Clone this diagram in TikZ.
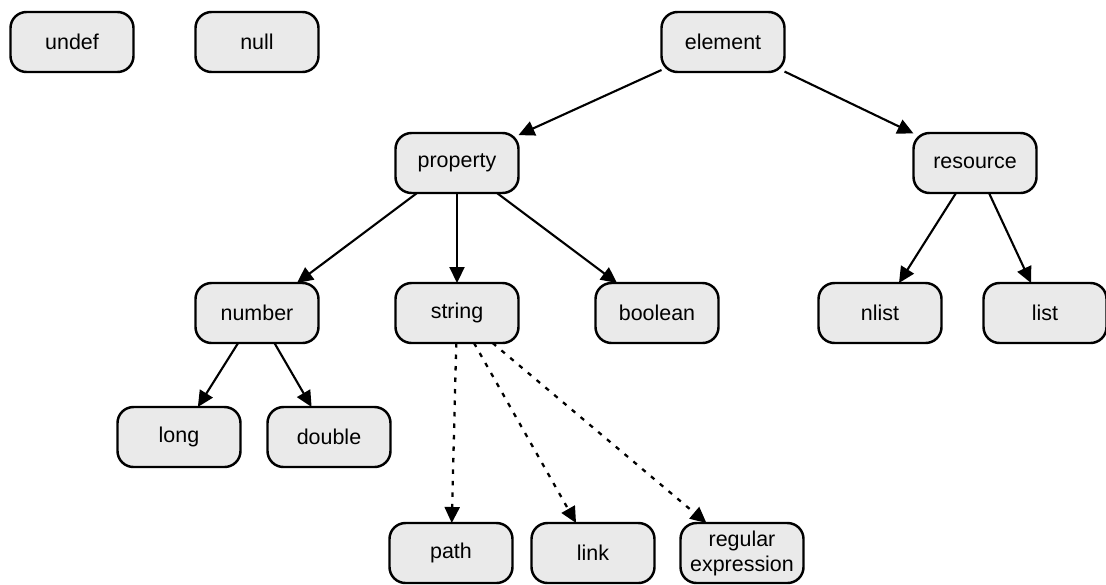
\documentclass[tikz,border=0pt]{standalone}
\usepackage{fontspec}
\setmainfont{Liberation Sans}
\usetikzlibrary{positioning,arrows.meta}
\definecolor{boxgray}{RGB}{234,234,234}
\tikzstyle{tbox}=[rectangle, rounded corners=0.32cm, draw=black, fill=boxgray, line width=1.4pt,
minimum width=2.46cm, minimum height=1.2cm, inner sep=1pt, outer sep=0pt, text centered, align=center,
font=\fontsize{12.2}{14.2}\selectfont]
\tikzstyle{line}=[-{Triangle[length=3.2mm,width=3mm]}, line width=1.2pt]
\tikzstyle{dline}=[line, line width=1.3pt, dash pattern=on 0.09cm off 0.14cm]

\begin{document}
\begin{tikzpicture}[node distance=0mm]

    \useasboundingbox (0,0) rectangle (22.12,-11.68);

% loose types
    \node (undef) [tbox] at (1.44,-0.84) {undef};
    \node (null) [tbox, right=1.24cm of undef] {null};

% element tree
    \node (element) [tbox] at (14.46,-0.84) {element};
    \node (property) [tbox, below=1.22cm of element, xshift=-5.32cm] {property};
    \node (resource) [tbox, below=1.22cm of element, xshift=5.04cm] {resource};

    \node (string) [tbox, below=1.8cm of property] {string};
    \node (number) [tbox, left=1.54cm of string] {number};
    \node (boolean) [tbox, right=1.54cm of string] {boolean};

    \node (nlist) [tbox, below=1.8cm of resource, xshift=-1.9cm] {nlist};
    \node (list) [tbox, right=0.84cm of nlist] {list};

    \node (long) [tbox, below=1.28cm of number, xshift=-1.56cm] {long};
    \node (double) [tbox, right=0.54cm of long] {double};

% string kinds
    \node (path) [tbox, below=3.6cm of string, xshift=-0.12cm] {path};
    \node (link) [tbox, right=0.38cm of path] {link};
    \node (regexp) [tbox, right=0.52cm of link] {regular\\expression};

    \draw[line] (element) -- (property);
    \draw[line] (element) -- (resource);

    \draw[line] (property) -- (number);
    \draw[line] (property) -- (string);
    \draw[line] (property) -- (boolean);

    \draw[line] (resource) -- (nlist);
    \draw[line] (resource) -- (list);

    \draw[line] (number) -- (long);
    \draw[line] (number) -- (double);

    \draw[dline] (string) -- (path);
    \draw[dline] (string) -- (link);
    \draw[dline] (string) -- (regexp);

\end{tikzpicture}
\end{document}
